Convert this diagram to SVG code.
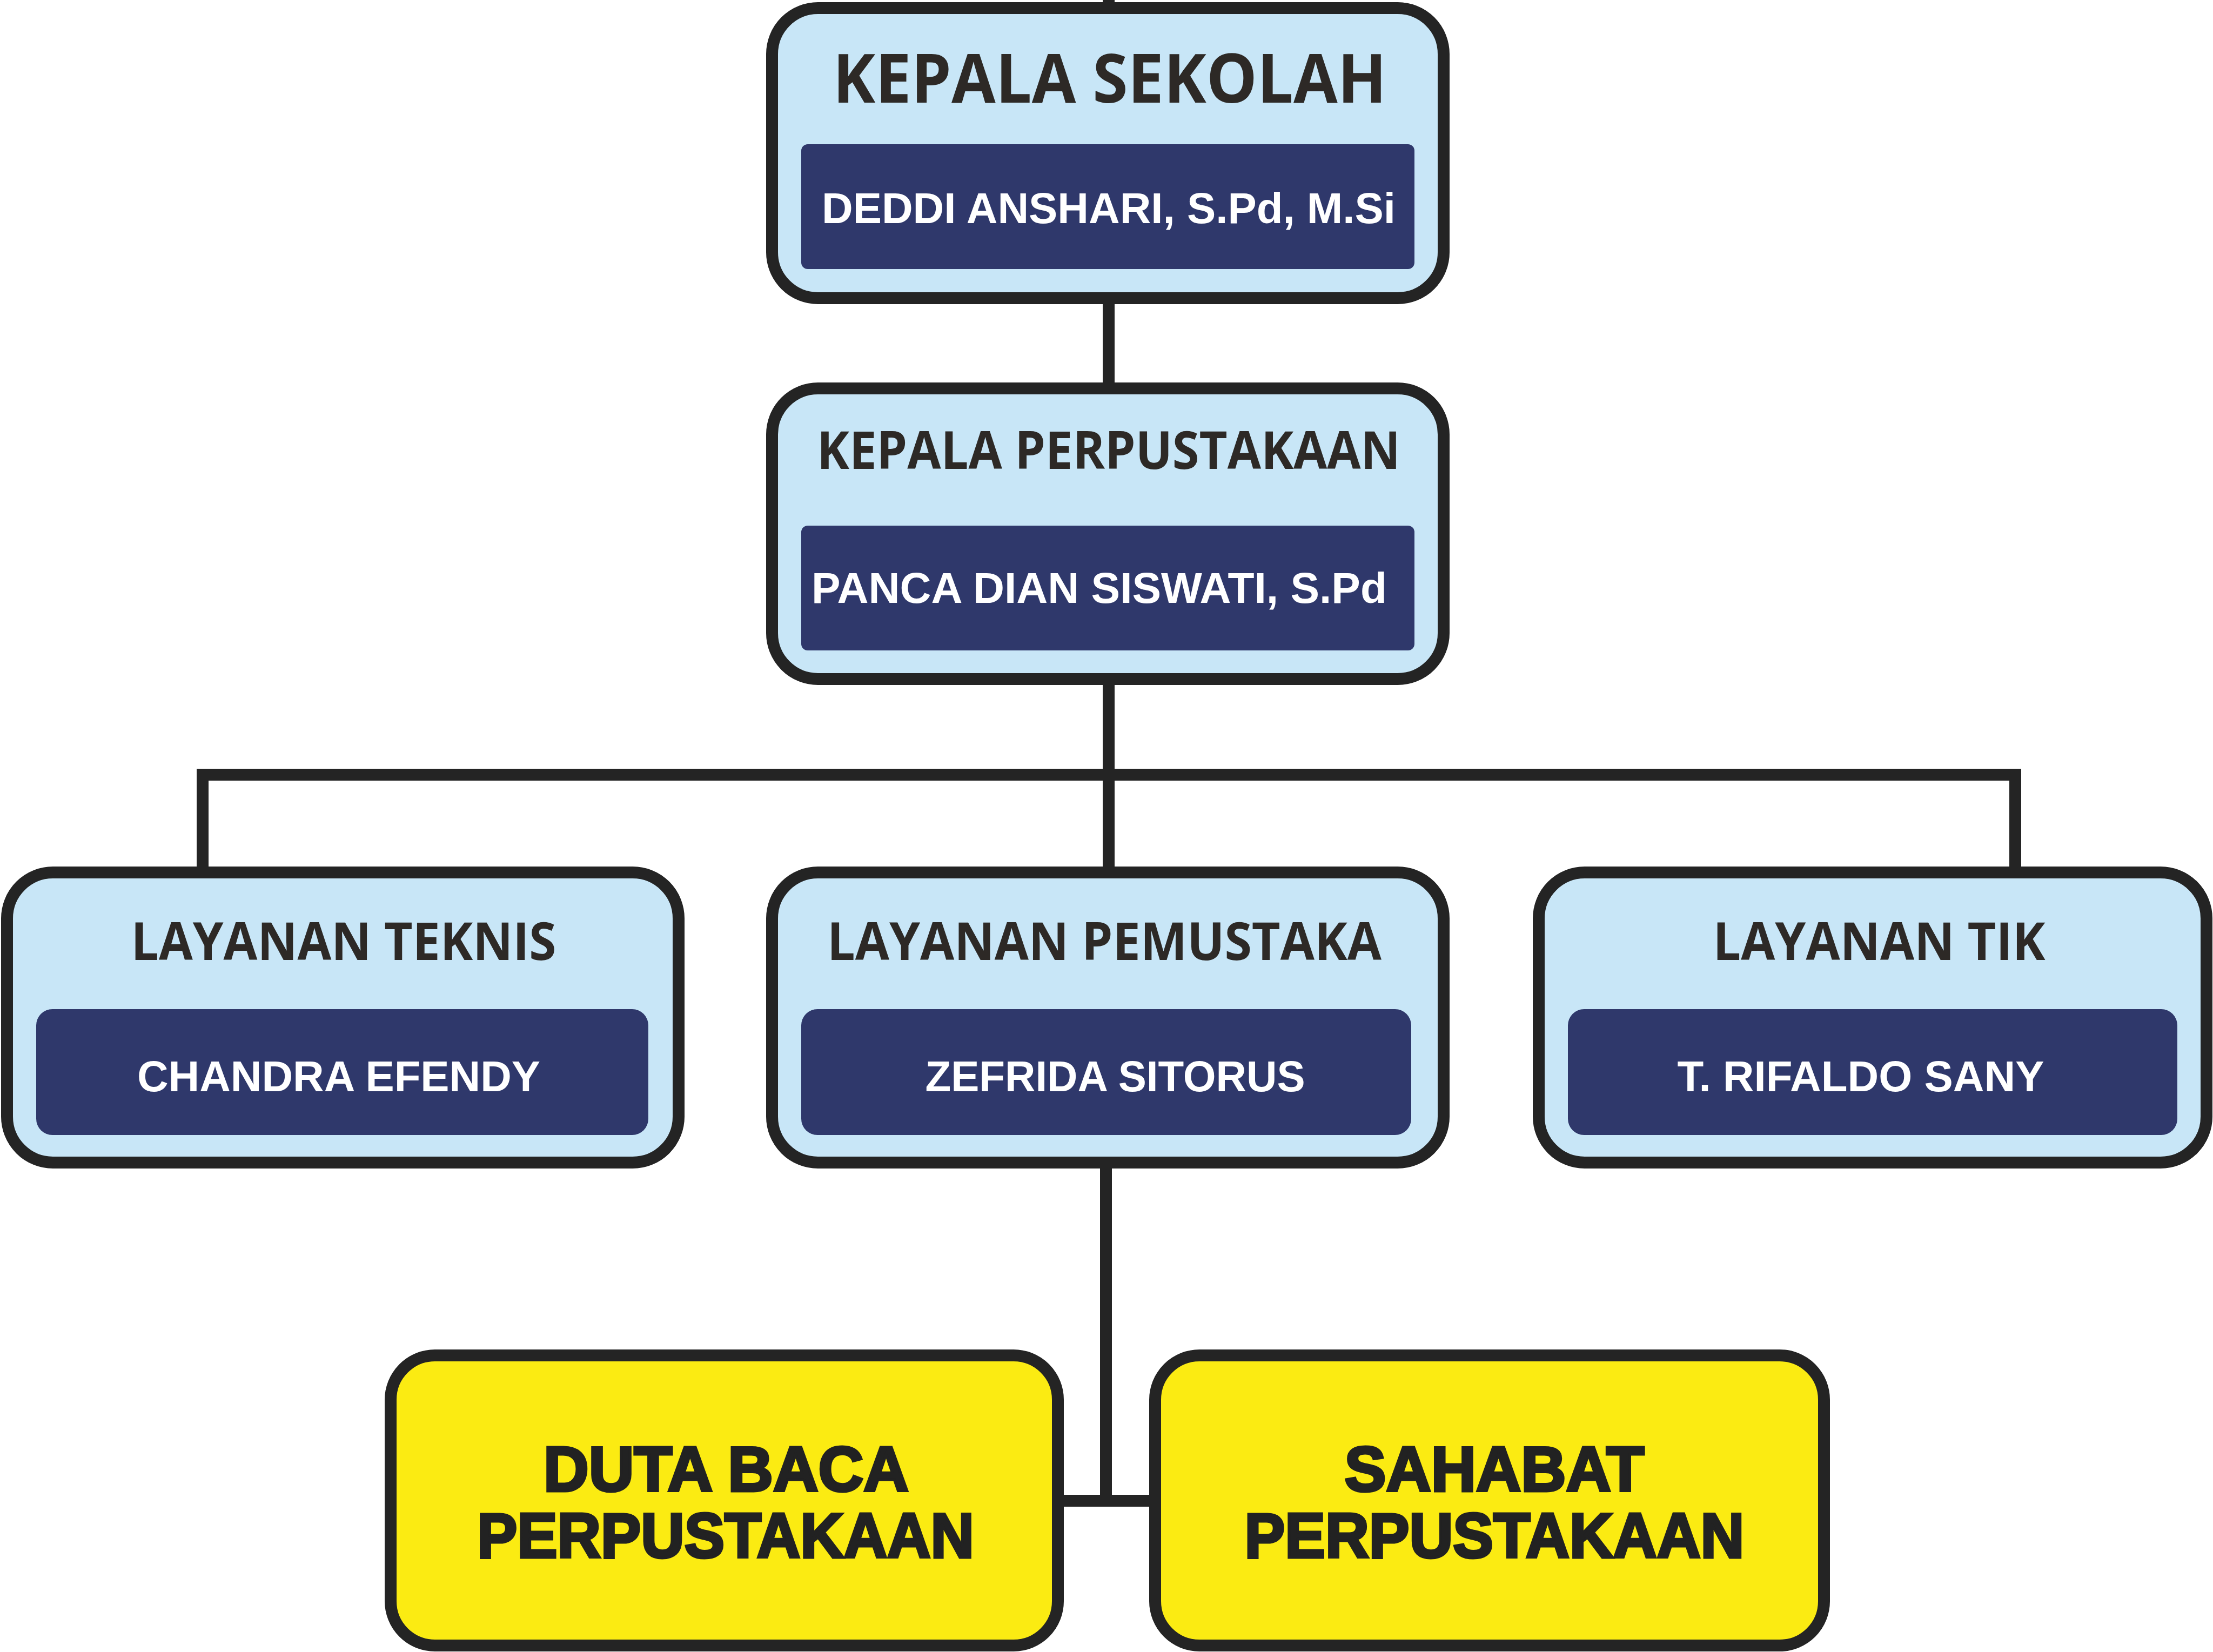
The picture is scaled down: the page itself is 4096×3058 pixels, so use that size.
<svg xmlns="http://www.w3.org/2000/svg" width="4096" height="3058" viewBox="0 0 4096 3058">
<style>
.box{fill:#c8e6f7;stroke:#242424;stroke-width:22}
.ybox{fill:#fbeb12;stroke:#242424;stroke-width:22}
.name{fill:#2f386b}
.conn{stroke:#242424;stroke-width:22;fill:none}
.h{font-family:"Open Sans","Liberation Sans",sans-serif;font-weight:700;fill:#2d2926;text-anchor:middle}
.n{font-family:"Liberation Sans",Arial,sans-serif;font-weight:700;fill:#ffffff;font-size:80px;text-anchor:middle}
.y{font-family:"Liberation Sans",Arial,sans-serif;font-weight:700;fill:#222222;stroke:#222222;stroke-width:5;font-size:117px;text-anchor:middle}
</style>
<rect width="4096" height="3058" fill="#ffffff"/>
<g id="connectors">
<line class="conn" x1="2052" y1="0" x2="2052" y2="20"/>
<line class="conn" x1="2052" y1="560" x2="2052" y2="715"/>
<line class="conn" x1="2052" y1="1265" x2="2052" y2="1612"/>
<polyline class="conn" points="375,1612 375,1434 3730,1434 3730,1612"/>
<line class="conn" x1="2047" y1="2160" x2="2047" y2="2778"/>
<line class="conn" x1="1958" y1="2778" x2="2138" y2="2778"/>
</g>
<g id="kepala-sekolah">
<rect class="box" x="1429" y="15" width="1243" height="537" rx="85"/>
<text class="h" x="2054" y="190" font-size="126" textLength="1025" lengthAdjust="spacingAndGlyphs">KEPALA SEKOLAH</text>
<rect class="name" x="1483" y="267" width="1135" height="231" rx="12"/>
<text class="n" x="2052" y="413" textLength="1062" lengthAdjust="spacingAndGlyphs">DEDDI ANSHARI, S.Pd, M.Si</text>
</g>
<g id="kepala-perpustakaan">
<rect class="box" x="1429" y="719" width="1243" height="538" rx="85"/>
<text class="h" x="2052" y="868" font-size="96" textLength="1080" lengthAdjust="spacingAndGlyphs">KEPALA PERPUSTAKAAN</text>
<rect class="name" x="1483" y="973" width="1135" height="231" rx="12"/>
<text class="n" x="1502" y="1116" style="text-anchor:start" textLength="1065" lengthAdjust="spacingAndGlyphs">PANCA DIAN SISWATI, S.Pd</text>
</g>
<g id="layanan-teknis">
<rect class="box" x="13" y="1615" width="1243" height="537" rx="85"/>
<text class="h" x="636" y="1777" font-size="96" textLength="787" lengthAdjust="spacingAndGlyphs">LAYANAN TEKNIS</text>
<rect class="name" x="67" y="1868" width="1133" height="233" rx="30"/>
<text class="n" x="627" y="2020" textLength="746" lengthAdjust="spacingAndGlyphs">CHANDRA EFENDY</text>
</g>
<g id="layanan-pemustaka">
<rect class="box" x="1429" y="1615" width="1243" height="537" rx="85"/>
<text class="h" x="2044" y="1777" font-size="96" textLength="1026" lengthAdjust="spacingAndGlyphs">LAYANAN PEMUSTAKA</text>
<rect class="name" x="1483" y="1868" width="1129" height="233" rx="30"/>
<text class="n" x="2064" y="2020" textLength="703" lengthAdjust="spacingAndGlyphs">ZEFRIDA SITORUS</text>
</g>
<g id="layanan-tik">
<rect class="box" x="2848" y="1615" width="1236" height="537" rx="85"/>
<text class="h" x="3478" y="1777" font-size="96" textLength="615" lengthAdjust="spacingAndGlyphs">LAYANAN TIK</text>
<rect class="name" x="2902" y="1868" width="1128" height="233" rx="30"/>
<text class="n" x="3444" y="2020" textLength="679" lengthAdjust="spacingAndGlyphs">T. RIFALDO SANY</text>
</g>
<g id="duta-baca">
<rect class="ybox" x="723" y="2509" width="1235" height="537" rx="82"/>
<text class="y" x="1344" y="2760" textLength="676" lengthAdjust="spacingAndGlyphs">DUTA BACA</text>
<text class="y" x="1343" y="2883" textLength="920" lengthAdjust="spacingAndGlyphs">PERPUSTAKAAN</text>
</g>
<g id="sahabat">
<rect class="ybox" x="2138" y="2509" width="1238" height="537" rx="82"/>
<text class="y" x="2766" y="2760" textLength="555" lengthAdjust="spacingAndGlyphs">SAHABAT</text>
<text class="y" x="2766" y="2883" textLength="925" lengthAdjust="spacingAndGlyphs">PERPUSTAKAAN</text>
</g>
</svg>
